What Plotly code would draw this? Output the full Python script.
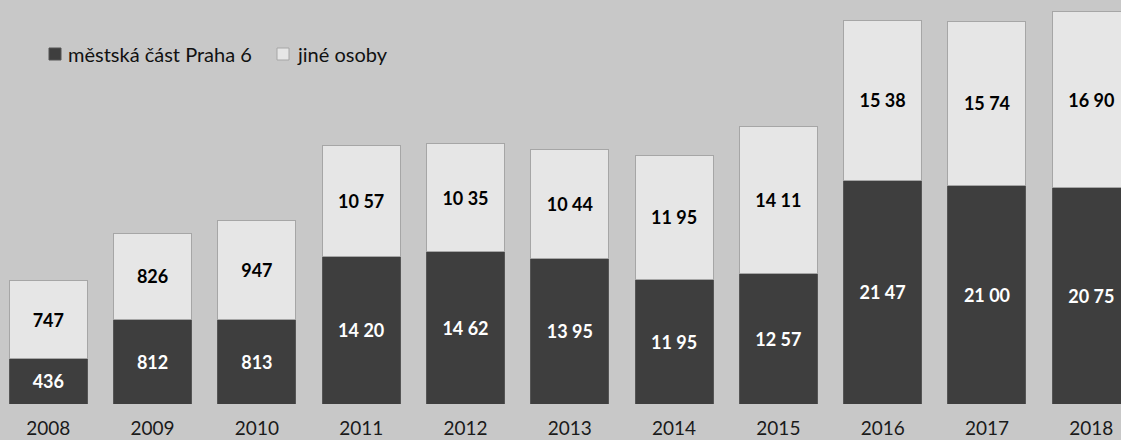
import plotly.graph_objects as go

years = ["2008", "2009", "2010", "2011", "2012", "2013", "2014", "2015", "2016", "2017", "2018"]
praha6 = [436, 812, 813, 1420, 1462, 1395, 1195, 1257, 2147, 2100, 2075]
jine = [747, 826, 947, 1057, 1035, 1044, 1195, 1411, 1538, 1574, 1690]
series_names = ["městská část Praha 6", "jiné osoby"]

DARK = "#3e3e3e"
LIGHT = "#e6e6e6"
BG = "#c8c8c8"
FONT = "Lato, 'Open Sans', sans-serif"

W, H = 1121, 440
MB = 36
PH = H - MB  # plot area height in px


def fmt(v):
    s = str(v)
    return s if len(s) < 4 else s[:2] + " " + s[2:]


fig = go.Figure()
fig.add_trace(go.Bar(
    name=series_names[0],
    x=years, y=praha6,
    text=[fmt(v) for v in praha6],
    textposition="inside", insidetextanchor="middle",
    textfont=dict(color="white", size=18, family=FONT, weight="bold"),
    marker=dict(color=DARK, line=dict(color="#555555", width=1)),
    width=0.748,
))
fig.add_trace(go.Bar(
    name=series_names[1],
    x=years, y=jine,
    text=[fmt(v) for v in jine],
    textposition="inside", insidetextanchor="middle",
    textfont=dict(color="black", size=18, family=FONT, weight="bold"),
    marker=dict(color=LIGHT, line=dict(color="#a6a6a6", width=1)),
    width=0.748,
))

# legend drawn by hand: small square + label, in pixel positions
legend_items = [(series_names[0], DARK, "#555555", 49, 66),
                (series_names[1], LIGHT, "#a6a6a6", 277, 295)]
ly = 54
for name, fill, edge, sx, tx in legend_items:
    fig.add_shape(type="rect", xref="paper", yref="paper",
                  x0=sx / W, x1=(sx + 12) / W,
                  y0=(PH - ly - 6) / PH, y1=(PH - ly + 6) / PH,
                  fillcolor=fill, line=dict(color=edge, width=1))
    fig.add_annotation(text=name, xref="paper", yref="paper",
                       x=tx / W, y=(PH - ly) / PH, xanchor="left", yanchor="middle",
                       showarrow=False, font=dict(size=20, color="#111111", family=FONT))

fig.update_layout(
    width=W, height=H,
    barmode="stack",
    paper_bgcolor=BG, plot_bgcolor=BG,
    margin=dict(l=0, r=0, t=0, b=MB, autoexpand=False),
    font=dict(family=FONT, color="#1a1a1a"),
    uniformtext=dict(mode="show", minsize=10),
    showlegend=False,
    xaxis=dict(
        type="category", range=[-0.463, 10.285], automargin=False,
        showgrid=False, showline=False, zeroline=False,
        tickfont=dict(size=19, color="#1a1a1a"), ticks="",
        ticklabelstandoff=11,
    ),
    yaxis=dict(range=[0, PH / 0.10418], visible=False, automargin=False,
               showgrid=False, zeroline=False),
)

fig.write_html("out.html")
